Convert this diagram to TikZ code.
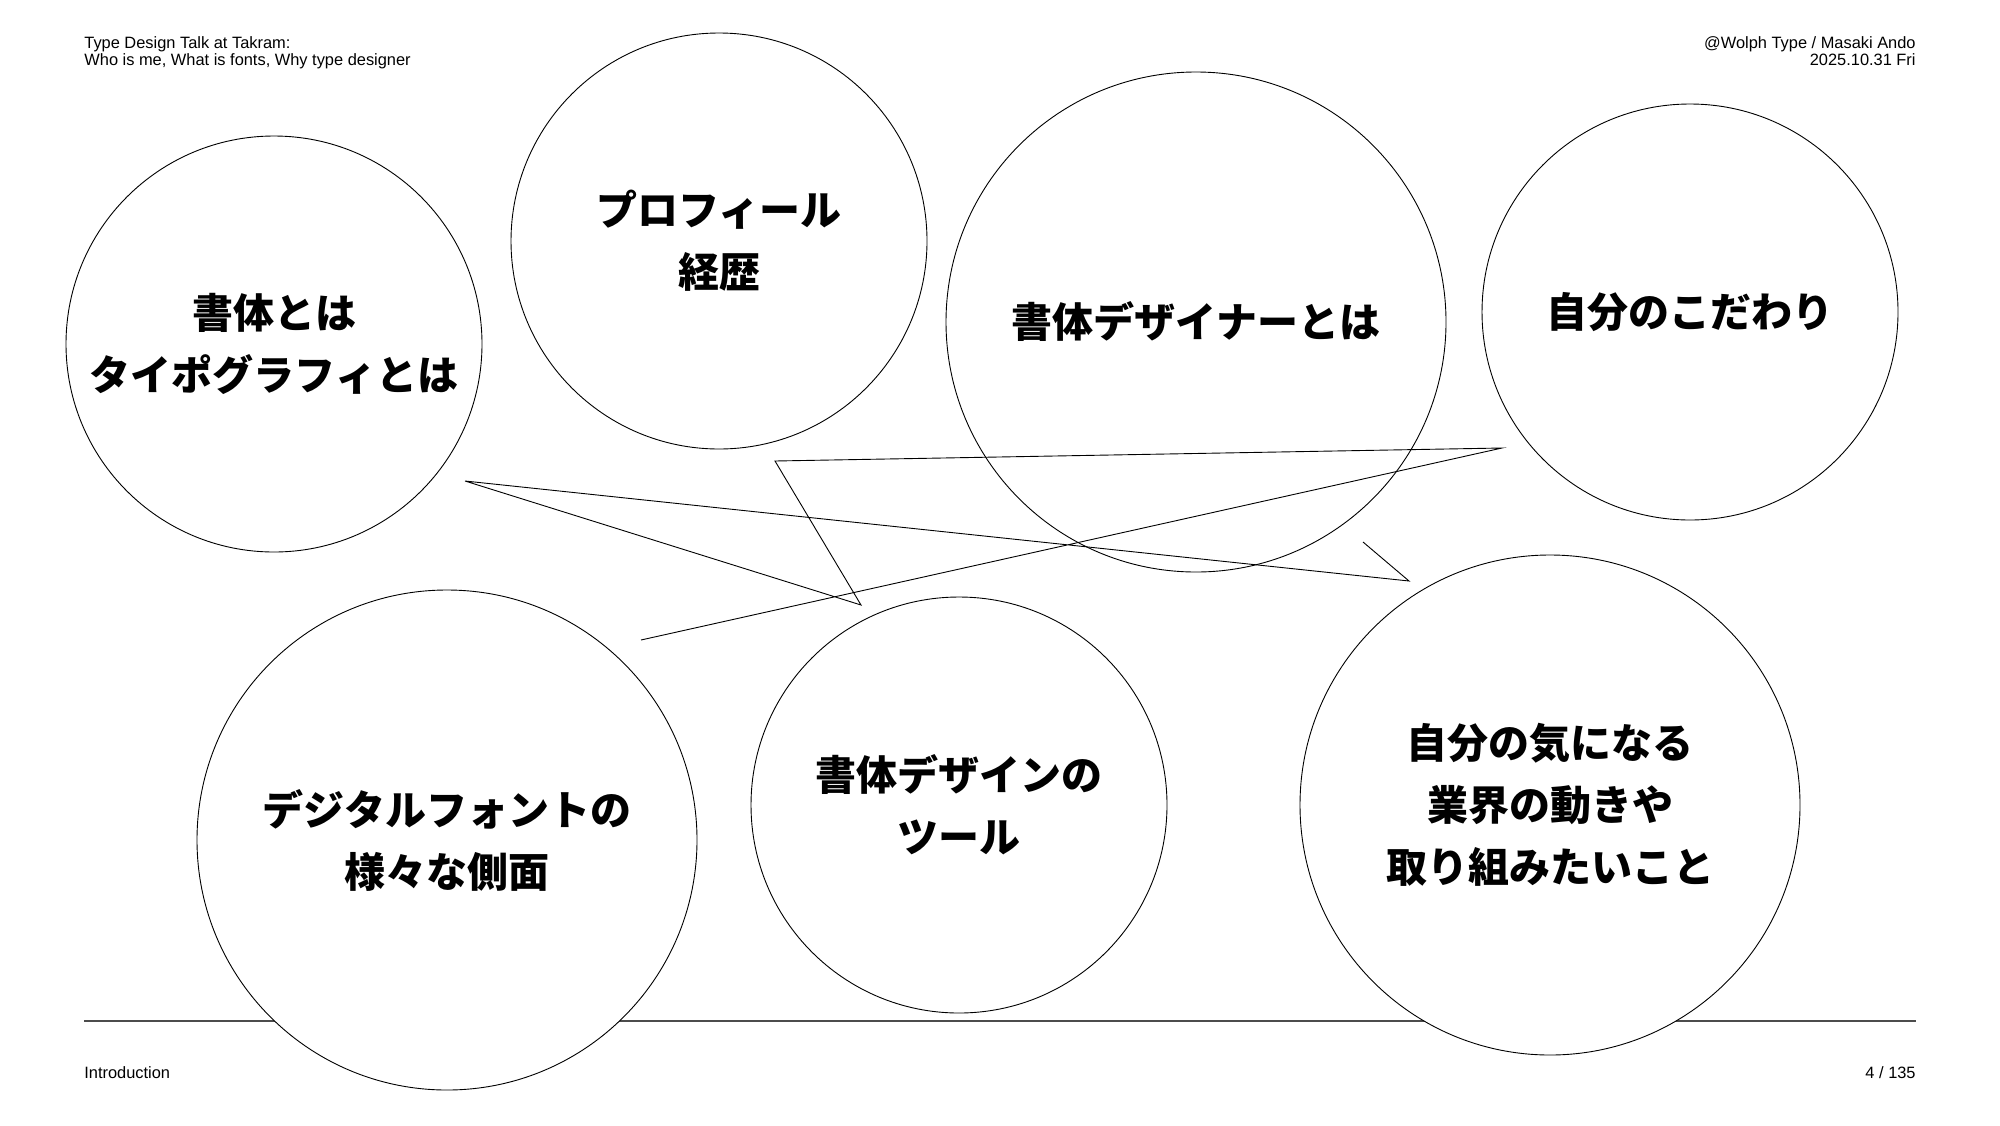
\documentclass[tikz,border=0pt]{standalone}
\usepackage{fontspec}
\setmainfont{Liberation Sans}
\newfontfamily\jpfont{Noto Sans CJK JP}
\tikzset{
  bubble/.style={circle, draw, fill=white, line width=.45pt, inner sep=0pt, align=center,
    minimum size=208pt, font=\jpfont\bfseries\fontsize{20.5}{31}\selectfont},
  bigbubble/.style={bubble, minimum size=250pt},
  meta/.style={inner sep=0pt, font=\fontsize{8.2}{8.6}\selectfont}
}
\begin{document}
\begin{tikzpicture}[x=.5pt,y=-.5pt]
\useasboundingbox (0,0) rectangle (2000,1125);
\node[meta, anchor=north west, align=left] (title) at (84,36) {Type Design Talk at Takram:\\Who is me, What is fonts, Why type designer};
\node[meta, anchor=north east, align=right] (author) at (1916,36) {@Wolph Type / Masaki Ando\\2025.10.31 Fri};
\coordinate (ruleL) at (84,1021);
\coordinate (ruleR) at (1916,1021);
\draw[black!70, line width=.6pt] (ruleL) -- (ruleR);
\node[meta, anchor=base west] (section) at (84,1078) {Introduction};
\node[meta, anchor=base east] (page) at (1916,1078) {4 / 135};
\node[bubble] (typeface) at (274,344) {書体とは\\タイポグラフィとは};
\node[bubble] (profile) at (719,241) {プロフィール\\経歴};
\node[bigbubble] (designer) at (1196,322) {書体デザイナーとは};
\node[bubble] (kodawari) at (1690,312) {自分のこだわり};
\node[bigbubble] (digital) at (447,840) {デジタルフォントの\\様々な側面};
\node[bubble] (tools) at (959,805) {書体デザインの\\ツール};
\node[bigbubble] (trends) at (1550,805) {自分の気になる\\業界の動きや\\取り組みたいこと};
\draw[line width=.45pt] (1363,542) -- (1409,581) -- (465,481) -- (861,605) -- (775,461) -- (1502,448) -- (641,640);
\end{tikzpicture}
\end{document}
